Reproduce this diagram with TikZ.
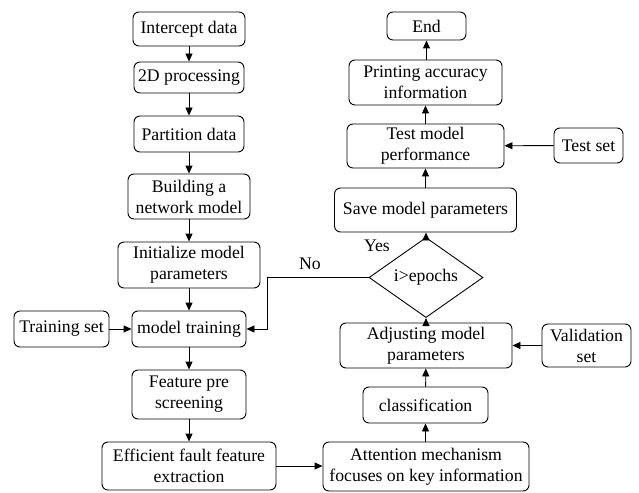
\documentclass[tikz,border=0pt]{standalone}
\usepackage{fontspec}
\setmainfont{Liberation Serif}
\usetikzlibrary{shapes.geometric,arrows.meta}
\begin{document}
\begin{tikzpicture}[x=1pt,y=-1pt,
  font=\rmfamily\fontsize{17.7}{21}\selectfont,
  box/.style={draw, rounded corners=6pt, line width=0.9pt, align=center, inner sep=0pt},
  dia/.style={draw, shape=diamond, line width=0.9pt, inner sep=0pt, align=center},
  arr/.style={line width=0.9pt, -{Triangle[length=8pt,width=7pt]}},
  lbl/.style={inner sep=0pt}]
\path[use as bounding box] (0,0) rectangle (639,492);
% left column
\node[box, minimum width=112pt, minimum height=34pt] (intercept) at (189,29) {Intercept data};
\node[box, minimum width=110pt, minimum height=31pt] (proc) at (189,77.5) {2D processing};
\node[box, minimum width=110pt, minimum height=36pt] (part) at (189,134) {Partition data};
\node[box, minimum width=122pt, minimum height=45pt] (build) at (189,196.5) {Building a\\network model};
\node[box, minimum width=142pt, minimum height=46pt] (init) at (189,265) {Initialize model\\parameters};
\node[box, minimum width=114pt, minimum height=36pt] (train) at (189,329) {model training};
\node[box, minimum width=95pt, minimum height=36pt] (trainset) at (61.5,329) {Training set};
\node[box, minimum width=114pt, minimum height=49pt] (feat) at (189,394.5) {Feature pre\\screening};
\node[box, minimum width=174pt, minimum height=48pt] (eff) at (189,466) {Efficient fault feature\\extraction};
% right column
\node[box, minimum width=79pt, minimum height=28pt] (end) at (426.5,26) {End};
\node[box, minimum width=153pt, minimum height=45pt] (print) at (425.5,82.5) {Printing accuracy\\information};
\node[box, minimum width=157pt, minimum height=44pt] (test) at (425.5,146) {Test model\\performance};
\node[box, minimum width=69pt, minimum height=35pt] (testset) at (588.5,145.5) {Test set};
\node[box, minimum width=182pt, minimum height=44pt] (save) at (425.5,210) {Save model parameters};
\node[dia, minimum width=114pt, minimum height=53pt] (cond) at (426,277.5) {i>epochs};
\node[box, minimum width=172pt, minimum height=45pt] (adjust) at (426,345.5) {Adjusting model\\parameters};
\node[box, minimum width=89pt, minimum height=43pt] (valset) at (586.5,345.5) {Validation\\set};
\node[box, minimum width=125pt, minimum height=36pt] (class) at (425.5,405) {classification};
\node[box, minimum width=206pt, minimum height=49pt] (att) at (426,466.5) {Attention mechanism\\focuses on key information};
% labels
\node[lbl] (yes) at (377,246) {Yes};
\node[lbl] (no) at (310,264) {No};
\coordinate (bend) at (267,277.5);
% connectors
\draw[arr] (intercept) -- (proc);
\draw[arr] (proc) -- (part);
\draw[arr] (part) -- (build);
\draw[arr] (build) -- (init);
\draw[arr] (init) -- (train);
\draw[arr] (trainset) -- (train);
\draw[arr] (train) -- (feat);
\draw[arr] (feat) -- (eff);
\draw[arr] (eff.east) -- (att.west |- eff.east);
\draw[arr] (att.north -| class.south) -- (class.south);
\draw[arr] (class) -- (adjust);
\draw[arr] (valset) -- (adjust);
\draw[arr] (adjust.north -| cond.south) -- (cond.south);
\draw[arr] (cond.north) -- (save.south -| cond.north);
\draw[arr] (save.north -| test.south) -- (test.south);
\draw[arr] (testset) -- (test);
\draw[arr] (test) -- (print);
\draw[arr] (print.north -| end.south) -- (end.south);
\draw[arr] (cond.west) -- (bend) |- (train.east);
\end{tikzpicture}
\end{document}
